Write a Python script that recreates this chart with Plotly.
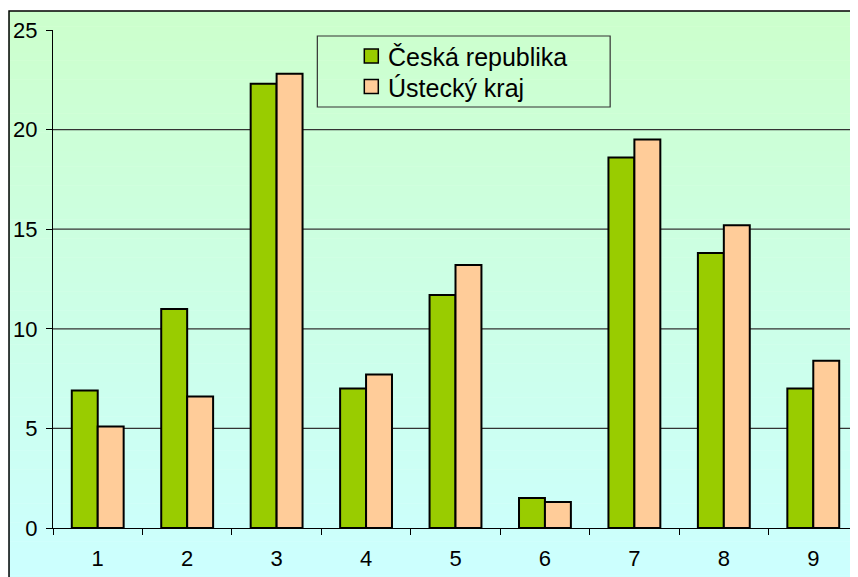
import plotly.graph_objects as go

categories = ["1", "2", "3", "4", "5", "6", "7", "8", "9"]
cr_values = [6.9, 11.0, 22.3, 7.0, 11.7, 1.5, 18.6, 13.8, 7.0]
ul_values = [5.1, 6.6, 22.8, 7.7, 13.2, 1.3, 19.5, 15.2, 8.4]
series_names = ["Česká republika", "Ústecký kraj"]
series_colors = ["#99CC00", "#FFCC99"]
y_ticks = [0, 5, 10, 15, 20, 25]

# page offset (default body margin of the html page)
OFF = 8
PAGE_W, PAGE_H = 858, 577
W, H = PAGE_W - OFF, PAGE_H - OFF
# plot area in page pixels
PL, PR, PT, PB = 52.5, 858, 30, 528
L, T = PL - OFF, PT - OFF
R, B = PAGE_W - PR, PAGE_H - PB
PW, PH = W - L - R, H - T - B

def xp(px):  # page pixel -> paper x
    return (px - PL) / PW

def yp(py):  # page pixel -> paper y
    return (PB - py) / PH

FONT = "Liberation Sans, Arial, sans-serif"

fig = go.Figure()
for name, vals, col in zip(series_names, [cr_values, ul_values], series_colors):
    fig.add_trace(go.Bar(x=categories, y=vals, name=name, showlegend=False,
                         marker=dict(color=col, line=dict(color="black", width=2))))

shapes = []
annotations = []
# gradient background of chart area
N = 150
top_px, bot_px = 11, PAGE_H + 2
c0, c1 = (204, 255, 204), (204, 255, 255)
for i in range(N):
    f = i / (N - 1)
    col = tuple(round(c0[k] + (c1[k] - c0[k]) * f) for k in range(3))
    y0 = top_px + (bot_px - top_px) * i / N
    y1 = top_px + (bot_px - top_px) * (i + 1) / N + 0.6
    shapes.append(dict(type="rect", xref="paper", yref="paper",
                       x0=xp(8), x1=xp(PAGE_W + 5), y0=yp(y0), y1=yp(y1),
                       fillcolor="rgb(%d,%d,%d)" % col, line=dict(width=0), layer="below"))
# outer border
shapes.append(dict(type="rect", xref="paper", yref="paper",
                   x0=xp(8.5), x1=xp(PAGE_W + 10), y0=yp(11), y1=yp(PAGE_H + 10),
                   line=dict(color="black", width=1.5), fillcolor="rgba(0,0,0,0)", layer="below"))
# gridlines
for v in y_ticks[1:-1]:
    shapes.append(dict(type="line", xref="paper", yref="y", x0=0, x1=1, y0=v, y1=v,
                       line=dict(color="#333333", width=1.2), layer="between"))
# legend box
shapes.append(dict(type="rect", xref="paper", yref="paper",
                   x0=xp(317), x1=xp(610), y0=yp(36), y1=yp(107),
                   line=dict(color="#333333", width=1.2), fillcolor="rgba(0,0,0,0)", layer="above"))
# legend entries
row_centers = [56, 86.5]
for name, col, yc in zip(series_names, series_colors, row_centers):
    shapes.append(dict(type="rect", xref="paper", yref="paper",
                       x0=xp(364), x1=xp(378), y0=yp(yc - 7), y1=yp(yc + 7),
                       fillcolor=col, line=dict(color="black", width=1.5), layer="above"))
    annotations.append(dict(xref="paper", yref="paper", x=xp(386), y=yp(yc + 1),
                            xanchor="left", yanchor="middle", showarrow=False,
                            text=name, font=dict(family=FONT, size=25, color="black")))

fig.update_layout(
    width=W, height=H,
    margin=dict(l=L, r=R, t=T, b=B, pad=0),
    paper_bgcolor="white", plot_bgcolor="rgba(0,0,0,0)",
    font=dict(family=FONT, color="black", size=22),
    barmode="group", bargap=0.42, bargroupgap=0,
    shapes=shapes, annotations=annotations,
    showlegend=False,
)
fig.update_xaxes(type="category", tickson="boundaries", ticks="outside", ticklen=6,
                 tickcolor="black", tickwidth=1, showline=True, linecolor="black",
                 linewidth=1.2, showgrid=False, zeroline=False,
                 tickfont=dict(family=FONT, size=22), ticklabelstandoff=10)
fig.update_yaxes(range=[0, 25], tickvals=y_ticks, ticks="outside", ticklen=6,
                 tickcolor="black", tickwidth=1, showline=True, linecolor="black",
                 linewidth=1.2, showgrid=False, zeroline=False,
                 tickfont=dict(family=FONT, size=22), ticklabelstandoff=4)

fig.write_html("out.html")
